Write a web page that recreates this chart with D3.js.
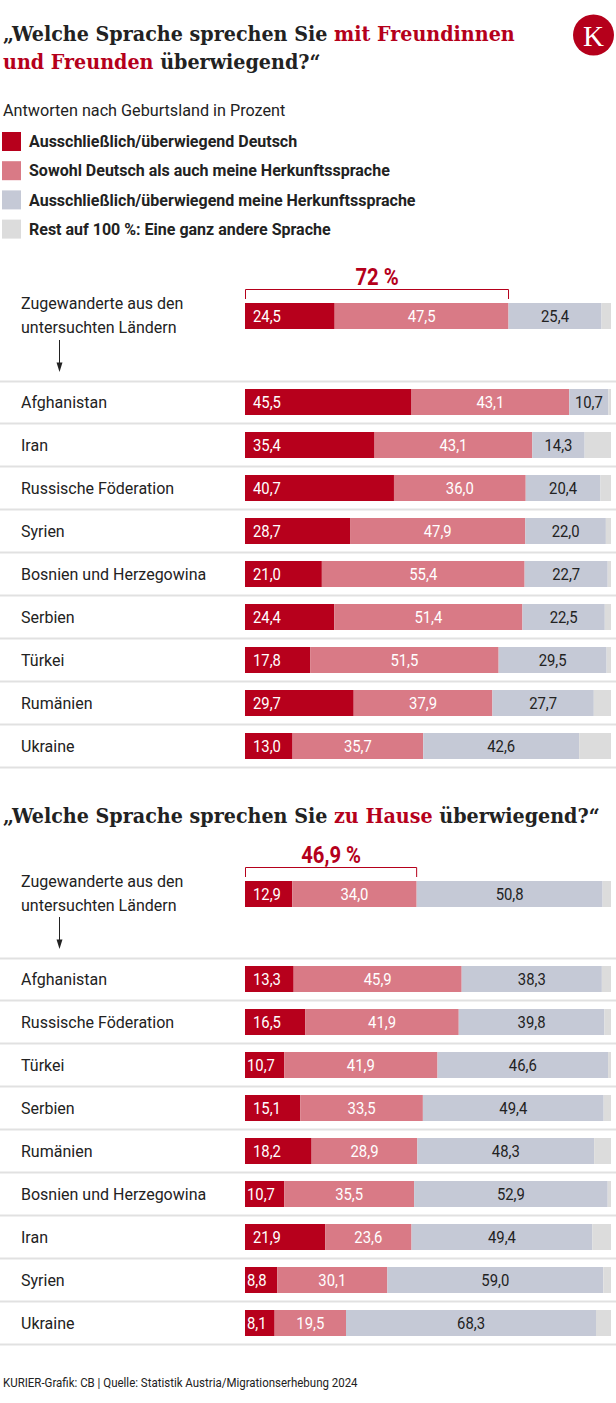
<!DOCTYPE html>
<html><head><meta charset="utf-8">
<script src="https://cdn.jsdelivr.net/npm/d3@7"></script>
<style>
html,body{margin:0;padding:0;background:#fff;}
svg{display:block;}
</style></head>
<body>
<script>
// ---------- DATA ----------
const legendLabels = [
  "Ausschließlich/überwiegend Deutsch",
  "Sowohl Deutsch als auch meine Herkunftssprache",
  "Ausschließlich/überwiegend meine Herkunftssprache",
  "Rest auf 100 %: Eine ganz andere Sprache"
];
const seriesKeys = ["deutsch", "beide", "herkunft", "rest"];

const totalLabel = ["Zugewanderte aus den", "untersuchten Ländern"];

// Section 1: mit Freundinnen und Freunden
const friendsCountries = ["Afghanistan", "Iran", "Russische Föderation", "Syrien", "Bosnien und Herzegowina", "Serbien", "Türkei", "Rumänien", "Ukraine"];
const friendsDeutsch   = [45.5, 35.4, 40.7, 28.7, 21.0, 24.4, 17.8, 29.7, 13.0];
const friendsBeide     = [43.1, 43.1, 36.0, 47.9, 55.4, 51.4, 51.5, 37.9, 35.7];
const friendsHerkunft  = [10.7, 14.3, 20.4, 22.0, 22.7, 22.5, 29.5, 27.7, 42.6];
const friendsRest      = [0.7, 7.2, 2.9, 1.4, 0.9, 1.7, 1.2, 4.7, 8.7];
const friendsTotal     = [24.5, 47.5, 25.4, 2.6];
const friendsBracket   = 72;
const friendsBracketLabel = "72 %";

// Section 2: zu Hause
const homeCountries = ["Afghanistan", "Russische Föderation", "Türkei", "Serbien", "Rumänien", "Bosnien und Herzegowina", "Iran", "Syrien", "Ukraine"];
const homeDeutsch   = [13.3, 16.5, 10.7, 15.1, 18.2, 10.7, 21.9, 8.8, 8.1];
const homeBeide     = [45.9, 41.9, 41.9, 33.5, 28.9, 35.5, 23.6, 30.1, 19.5];
const homeHerkunft  = [38.3, 39.8, 46.6, 49.4, 48.3, 52.9, 49.4, 59.0, 68.3];
const homeRest      = [2.5, 1.8, 0.8, 2.0, 4.6, 0.9, 5.1, 2.1, 4.1];
const homeTotal     = [12.9, 34.0, 50.8, 2.3];
const homeBracket   = 46.9;
const homeBracketLabel = "46,9 %";

const footerText = "KURIER-Grafik: CB | Quelle: Statistik Austria/Migrationserhebung 2024";

// ---------- STYLE ----------
const W = 616, H = 1403;
const RED = "#b5001b";
const colors = ["#b7001c", "#d97a86", "#c5c9d6", "#dcdcdc"];
const labelColors = ["#fff", "#fff", "#222", null];
const TXT = "#222";
const SANS = "Roboto, 'Noto Sans', sans-serif";
const SERIF = "'DejaVu Serif', serif";
const COND = 0.9;

const de = d3.formatLocale({decimal: ",", thousands: ".", grouping: [3], currency: ["", " €"]});
const fmt = de.format(".1f");

const x = d3.scaleLinear().domain([0, 100]).range([245, 611]);
const BAR_H = 26, ROW_STEP = 43;

const svg = d3.select("body").append("svg").attr("width", W).attr("height", H);
svg.append("rect").attr("width", W).attr("height", H).attr("fill", "#fff");

// ---------- helpers ----------
function fitText(sel, target) {
  const n = sel.node();
  const len = n.getComputedTextLength();
  return len > 0 ? target / len : 1;
}

function titleLine(parts) {
  const t = svg.append("text")
    .attr("font-family", SERIF).attr("font-weight", "bold").attr("font-size", 20.5)
    .attr("fill", TXT);
  parts.forEach(p => t.append("tspan").text(p[0]).attr("fill", p[1] ? RED : TXT));
  return t;
}

const stack = d3.stack().keys(seriesKeys);

function drawBar(values, yTop) {
  const row = {};
  seriesKeys.forEach((k, i) => row[k] = values[i]);
  const st = stack([row]);
  const g = svg.append("g");
  g.selectAll("rect").data(st).join("rect")
    .attr("x", d => x(d[0][0]))
    .attr("width", d => Math.max(0, x(d[0][1]) - x(d[0][0])))
    .attr("y", yTop).attr("height", BAR_H)
    .attr("fill", (d, i) => colors[i]);
  st.forEach((d, i) => {
    if (i === 3) return;
    const x0 = x(d[0][0]), x1 = x(d[0][1]);
    const t = g.append("text")
      .attr("font-family", SANS).attr("font-size", 16.5)
      .attr("fill", labelColors[i])
      .text(fmt(values[i]));
    const tw = t.node().getComputedTextLength() * COND;
    const ty = yTop + BAR_H / 2 + 5.8;
    let tx;
    if (i === 0) {
      const segW = x1 - x0;
      const pad = (tw + 16 > segW) ? 2 : 8;
      tx = x0 + pad;
      t.attr("text-anchor", "start");
    } else {
      tx = (x0 + x1) / 2;
      t.attr("text-anchor", "middle");
    }
    t.attr("transform", `translate(${tx},${ty}) scale(${COND},1)`);
  });
}

function sepLine(y) {
  svg.append("line").attr("x1", 0).attr("x2", W).attr("y1", y).attr("y2", y)
    .attr("stroke", "#e1e1e1").attr("stroke-width", 2);
}

function drawSection(cfg) {
  const yb = cfg.headerTop;
  // bracket
  const bx0 = x(0) + 0.5, bx1 = x(cfg.bracket);
  svg.append("path")
    .attr("d", `M${bx0},${yb - 4}V${yb - 13.5}H${bx1}V${yb - 4}`)
    .attr("fill", "none").attr("stroke", RED).attr("stroke-width", 1);
  svg.append("text")
    .attr("transform", `translate(${(bx0 + bx1) / 2},${yb - 18.5}) scale(0.88,1)`)
    .attr("text-anchor", "middle")
    .attr("font-family", SANS).attr("font-weight", "bold").attr("font-size", 23)
    .attr("fill", RED).text(cfg.bracketLabel);
  drawBar(cfg.total, yb);
  totalLabel.forEach((l, i) => {
    svg.append("text").attr("x", 21).attr("y", yb + 6 + i * 24)
      .attr("font-family", SANS).attr("font-size", 16).attr("fill", TXT).text(l);
  });
  // arrow
  const sep = cfg.sepTop;
  svg.append("line").attr("x1", 59.5).attr("x2", 59.5)
    .attr("y1", sep - 41.5).attr("y2", sep - 14)
    .attr("stroke", TXT).attr("stroke-width", 1);
  svg.append("path")
    .attr("d", `M${56.5},${sep - 19}L${62.5},${sep - 19}L${59.5},${sep - 9.5}Z`)
    .attr("fill", TXT);
  sepLine(sep);
  cfg.countries.forEach((c, i) => {
    const top = sep + 7.5 + i * ROW_STEP;
    drawBar([cfg.deutsch[i], cfg.beide[i], cfg.herkunft[i], cfg.rest[i]], top);
    svg.append("text").attr("x", 21).attr("y", top + BAR_H / 2 + 5.6)
      .attr("font-family", SANS).attr("font-size", 16).attr("fill", TXT).text(c);
    sepLine(top + BAR_H + 8.5);
  });
}

// ---------- TITLES ----------
const t1 = titleLine([["„Welche Sprache sprechen Sie ", false], ["mit Freundinnen", true]]);
const s = fitText(t1, 512);
t1.attr("transform", `translate(3,41) scale(${s},1)`);
const t2 = titleLine([["und Freunden", true], [" überwiegend?“", false]]);
t2.attr("transform", `translate(3,69) scale(${s},1)`);
const t3 = titleLine([["„Welche Sprache sprechen Sie ", false], ["zu Hause", true], [" überwiegend?“", false]]);
t3.attr("transform", `translate(3,823) scale(${s},1)`);

// logo
svg.append("circle").attr("cx", 593.5).attr("cy", 35).attr("r", 20.5).attr("fill", RED);
svg.append("text").attr("x", 593.5).attr("y", 45.5).attr("text-anchor", "middle")
  .attr("font-family", "'Liberation Serif', serif").attr("font-size", 29)
  .attr("fill", "#fff").text("K");

// subtitle
svg.append("text").attr("x", 3).attr("y", 116)
  .attr("font-family", SANS).attr("font-size", 16.2).attr("fill", TXT)
  .text("Antworten nach Geburtsland in Prozent");

// legend
legendLabels.forEach((l, i) => {
  const cy = 141.5 + i * 29.2;
  svg.append("rect").attr("x", 2).attr("y", cy - 9.5).attr("width", 19).attr("height", 19)
    .attr("fill", colors[i]);
  svg.append("text").attr("x", 29).attr("y", cy + 5.7)
    .attr("font-family", SANS).attr("font-weight", "bold").attr("font-size", 16)
    .attr("fill", TXT).text(l);
});

drawSection({
  headerTop: 303, sepTop: 381.5, bracket: friendsBracket, bracketLabel: friendsBracketLabel,
  total: friendsTotal, countries: friendsCountries, deutsch: friendsDeutsch,
  beide: friendsBeide, herkunft: friendsHerkunft, rest: friendsRest
});
drawSection({
  headerTop: 881, sepTop: 958.5, bracket: homeBracket, bracketLabel: homeBracketLabel,
  total: homeTotal, countries: homeCountries, deutsch: homeDeutsch,
  beide: homeBeide, herkunft: homeHerkunft, rest: homeRest
});

// footer
const ft = svg.append("text").attr("font-family", SANS).attr("font-size", 12)
  .attr("fill", TXT).text(footerText);
const fs = fitText(ft, 355);
ft.attr("transform", `translate(3,1387) scale(${fs},1)`);
</script>
</body></html>
